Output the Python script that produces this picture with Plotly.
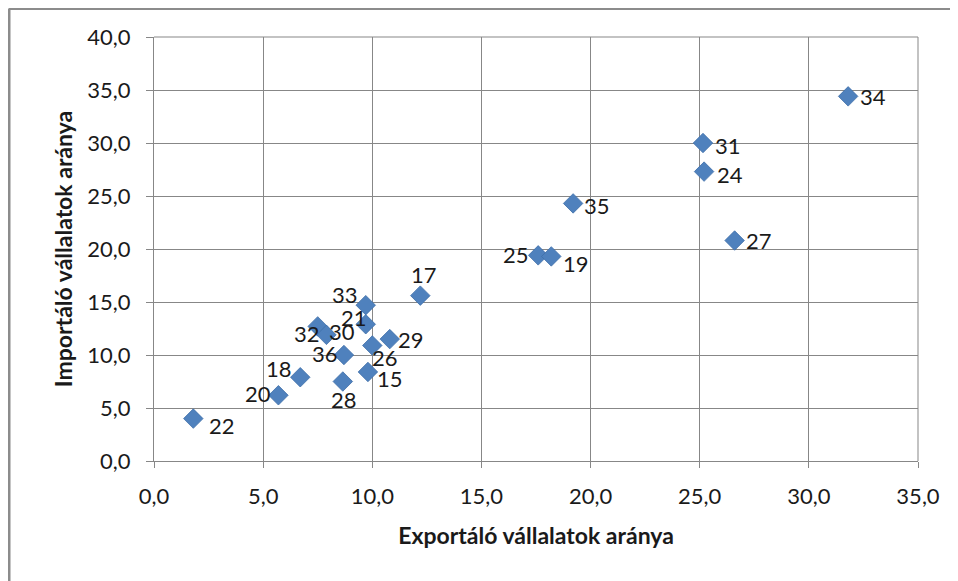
import plotly.graph_objects as go

labels = ["34", "31", "24", "27", "35", "25", "19", "17", "33", "21", "32", "30",
          "29", "26", "36", "18", "15", "28", "20", "22"]
export_share = [31.8, 25.15, 25.2, 26.6, 19.2, 17.6, 18.2, 12.2, 9.7, 9.7, 7.5, 7.9,
                10.8, 10.0, 8.7, 6.7, 9.8, 8.65, 5.7, 1.8]
import_share = [34.4, 30.0, 27.3, 20.8, 24.3, 19.4, 19.3, 15.6, 14.7, 12.9, 12.7, 11.9,
                11.5, 10.9, 10.0, 7.9, 8.4, 7.5, 6.2, 4.0]

# label offsets in pixels (dx, dy) relative to marker, style only
label_offsets = {
    "34": (25, 0), "31": (25, -2), "24": (26, -3), "27": (24, 0), "35": (24, -2),
    "25": (-22, 1), "19": (25, -7), "17": (4, 21), "33": (-21, 11), "21": (-12, 7),
    "32": (-11, -7), "30": (16, 3), "29": (21, 0), "26": (13, -12), "36": (-19, 2),
    "18": (-21, 9), "15": (22, -7), "28": (1, -18), "20": (-20, 2), "22": (29, -7),
}

FONT = "Lato"
GRID = "#878787"
FS = 22

fig = go.Figure()
fig.add_trace(go.Scatter(
    x=export_share, y=import_share, mode="markers",
    marker=dict(symbol="diamond", size=15, color="#4F81BD",
                line=dict(width=0.8, color="#3F6FA8")),
    showlegend=False, hoverinfo="x+y",
))

for lab, xv, yv in zip(labels, export_share, import_share):
    dx, dy = label_offsets[lab]
    fig.add_annotation(x=xv, y=yv, text=lab, showarrow=False,
                       xshift=dx, yshift=dy,
                       font=dict(family=FONT, size=FS, color="#1a1a1a"))

# page has an 8px body margin; margins compensate so the plot sits where the reference has it
L, R, T, B = 146, 48, 29, 128
W, H = 958, 581
PW, PH = W - L - R, H - T - B

fig.update_layout(
    width=W, height=H,
    margin=dict(l=L, r=R, t=T, b=B),
    paper_bgcolor="white", plot_bgcolor="white",
    font=dict(family=FONT, size=FS, color="#1a1a1a"),
    separators=", ",
    xaxis=dict(range=[0, 35], dtick=5, tick0=0, tickformat=".1f",
               showgrid=True, gridcolor=GRID, gridwidth=1,
               showline=True, linecolor=GRID, linewidth=1, mirror=False,
               ticks="outside", ticklen=6, tickcolor=GRID,
               ticklabelstandoff=10, zeroline=False,
               title=dict(text="<b>Exportáló vállalatok aránya</b>",
                          font=dict(family=FONT, size=23), standoff=19)),
    yaxis=dict(range=[0, 40], dtick=5, tick0=0, tickformat=".1f",
               showgrid=True, gridcolor=GRID, gridwidth=1,
               showline=True, linecolor=GRID, linewidth=1,
               ticks="outside", ticklen=7, tickcolor=GRID,
               ticklabelstandoff=11, zeroline=False,
               title=dict(text="<b>Importáló vállalatok aránya</b>",
                          font=dict(family=FONT, size=23), standoff=8)),
)

# right and top frame of the plot area
fig.add_shape(type="line", xref="paper", yref="paper", x0=1, x1=1, y0=0, y1=1,
              line=dict(color=GRID, width=1))
fig.add_shape(type="line", xref="paper", yref="paper", x0=0, x1=1, y0=1, y1=1,
              line=dict(color=GRID, width=1))

# outer chart border (left and top visible)
bx = (1 - L) / PW
by = (H - B - 0.5) / PH
fig.add_shape(type="line", xref="paper", yref="paper",
              x0=bx, x1=bx, y0=by, y1=-0.4,
              line=dict(color="#8c8c8c", width=3))
fig.add_shape(type="line", xref="paper", yref="paper",
              x0=bx, x1=1.2, y0=by, y1=by,
              line=dict(color="#8c8c8c", width=3))

fig.write_html("out.html")
